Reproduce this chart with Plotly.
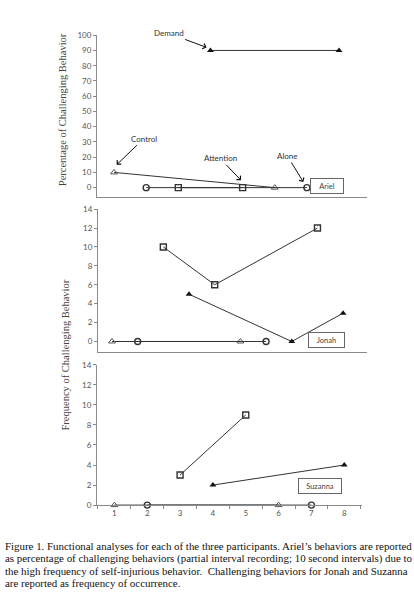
import plotly.graph_objects as go

# Sesiones y valores de cada condicion (Ariel en %, Jonah y Suzanna en frecuencia)
ariel_control_x = [1, 6]
ariel_control_y = [10, 0]
ariel_alone_x = [2, 7]
ariel_alone_y = [0, 0]
ariel_attention_x = [3, 5]
ariel_attention_y = [0, 0]
ariel_demand_x = [4, 8]
ariel_demand_y = [90, 90]

jonah_control_x = [1, 6]
jonah_control_y = [0, 0]
jonah_alone_x = [2, 7]
jonah_alone_y = [0, 0]
jonah_attention_x = [3, 5, 9]
jonah_attention_y = [10, 6, 12]
jonah_demand_x = [4, 8, 10]
jonah_demand_y = [5, 0, 3]

suzanna_control_x = [1, 6]
suzanna_control_y = [0, 0]
suzanna_alone_x = [2, 7]
suzanna_alone_y = [0, 0]
suzanna_attention_x = [3, 5]
suzanna_attention_y = [3, 9]
suzanna_demand_x = [4, 8]
suzanna_demand_y = [2, 4]

session_ticks = [1, 2, 3, 4, 5, 6, 7, 8]

caption_lines = [
    "Figure 1. Functional analyses for each of the three participants. Ariel’s behaviors are reported",
    "as percentage of challenging behaviors (partial interval recording; 10 second intervals) due to",
    "the high frequency of self-injurious behavior.  Challenging behaviors for Jonah and Suzanna",
    "are reported as frequency of occurrence.",
]

LINE = "#333333"
AXIS = "#8a8a8a"
TICKFONT = dict(family="Lato", size=8, color="#555555")
SERIF = "Liberation Serif"

fig = go.Figure()


def add_panel(n, cx, cy, lx, ly, tx, ty, dx, dy):
    xa = "x" if n == 1 else f"x{n}"
    ya = "y" if n == 1 else f"y{n}"
    estilos = [
        (cx, cy, dict(symbol="triangle-up-open", size=6, color="#555555", line=dict(width=1))),
        (lx, ly, dict(symbol="circle-open", size=6, color=LINE, line=dict(width=1.4))),
        (tx, ty, dict(symbol="square-open", size=6, color=LINE, line=dict(width=1.4))),
        (dx, dy, dict(symbol="triangle-up", size=6, color="#111111")),
    ]
    for xs, ys, mk in estilos:
        fig.add_trace(go.Scatter(
            x = xs,
            y = ys,
            mode = 'lines+markers',
            line = dict(color=LINE, width=1),
            marker = mk,
            showlegend = False,
            cliponaxis = False,
            xaxis = xa,
            yaxis = ya
        ))


add_panel(1, ariel_control_x, ariel_control_y, ariel_alone_x, ariel_alone_y,
          ariel_attention_x, ariel_attention_y, ariel_demand_x, ariel_demand_y)
add_panel(2, jonah_control_x, jonah_control_y, jonah_alone_x, jonah_alone_y,
          jonah_attention_x, jonah_attention_y, jonah_demand_x, jonah_demand_y)
add_panel(3, suzanna_control_x, suzanna_control_y, suzanna_alone_x, suzanna_alone_y,
          suzanna_attention_x, suzanna_attention_y, suzanna_demand_x, suzanna_demand_y)

yaxis_base = dict(showline=True, linecolor=AXIS, linewidth=1, showgrid=False, zeroline=False,
                  ticks="outside", ticklen=3, tickcolor=AXIS, tickfont=TICKFONT)
xaxis_base = dict(showline=True, linecolor=AXIS, linewidth=1, showgrid=False, zeroline=False)

fig.update_layout(
    width = 414,
    height = 593,
    margin = dict(l=0, r=0, t=0, b=0),
    paper_bgcolor = "white",
    plot_bgcolor = "white",
    xaxis = dict(xaxis_base, domain=[0.2343, 0.8865], range=[0.47, 8.87], showticklabels=False),
    yaxis = dict(yaxis_base, domain=[0.6700, 0.9482], range=[-6.4, 100], tickvals=list(range(0, 101, 10))),
    xaxis2 = dict(xaxis_base, domain=[0.2367, 0.8865], range=[0.455, 10.93], showticklabels=False, anchor="y2"),
    yaxis2 = dict(yaxis_base, domain=[0.4042, 0.6498], range=[-1.15, 14], tickvals=list(range(0, 15, 2)), anchor="x2"),
    xaxis3 = dict(xaxis_base, domain=[0.2343, 0.8744], range=[0.47, 8.54], anchor="y3",
                  tickvals=session_ticks, ticks="", tickfont=TICKFONT,
                  minor=dict(tickvals=[v - 0.5 for v in session_ticks] + [8.5], ticks="outside",
                             ticklen=3, tickcolor=AXIS)),
    yaxis3 = dict(yaxis_base, domain=[0.1422, 0.3828], range=[0, 14], tickvals=list(range(0, 15, 2)), anchor="x3"),
)

# Etiquetas con flecha del panel de Ariel
flechas = [
    ("Demand", 3.88, 92, -38, -14),
    ("Control", 1.08, 15, 27, -26),
    ("Attention", 4.95, 4.8, -21, -22),
    ("Alone", 6.89, 3.7, -16, -26),
]
for texto, x, y, ax, ay in flechas:
    fig.add_annotation(
        x = x, y = y, xref = "x", yref = "y",
        ax = ax, ay = ay,
        text = texto,
        showarrow = True,
        arrowhead = 4,
        arrowsize = 1.1,
        arrowwidth = 1,
        arrowcolor = "#111111",
        font = dict(family="Lato", size=8, color="#333333")
    )

# Cajas con el nombre del participante
cajas = [
    ("Ariel", 343.5, 176, 30),
    ("Jonah", 344.5, 340.5, 33),
    ("Suzanna", 342, 497, 40),
]
for nombre, px, py, w in cajas:
    fig.add_annotation(
        x = px / 414, y = 1 - py / 593, xref = "paper", yref = "paper",
        text = nombre, showarrow = False,
        width = w, height = 12,
        bordercolor = "#666666", borderwidth = 1, borderpad = 1,
        font = dict(family="Lato", size=7.5, color="#444444")
    )

# Titulos de los ejes Y
fig.add_annotation(x=62 / 414, y=1 - 107 / 593, xref="paper", yref="paper",
                   xanchor="center", yanchor="middle",
                   text="Percentage of Challenging Behavior", textangle=-90, showarrow=False,
                   font=dict(family=SERIF, size=10.5, color="#444444"))
fig.add_annotation(x=65 / 414, y=1 - 356.5 / 593, xref="paper", yref="paper",
                   xanchor="center", yanchor="middle",
                   text="Frequency of Challenging Behavior", textangle=-90, showarrow=False,
                   font=dict(family=SERIF, size=10.5, color="#444444"))

# Pie de figura
for i, linea in enumerate(caption_lines):
    fig.add_annotation(
        x = 3 / 414, y = 1 - (550.5 + 12.5 * i) / 593, xref = "paper", yref = "paper",
        xanchor = "left", yanchor = "middle",
        text = linea, showarrow = False, align = "left",
        font = dict(family=SERIF, size=10.9, color="#111111")
    )

# Quitar el margen del body para que la figura empiece en la esquina
fig.write_html("out.html", config={"displayModeBar": False},
               post_script="document.body.style.margin='0';")
